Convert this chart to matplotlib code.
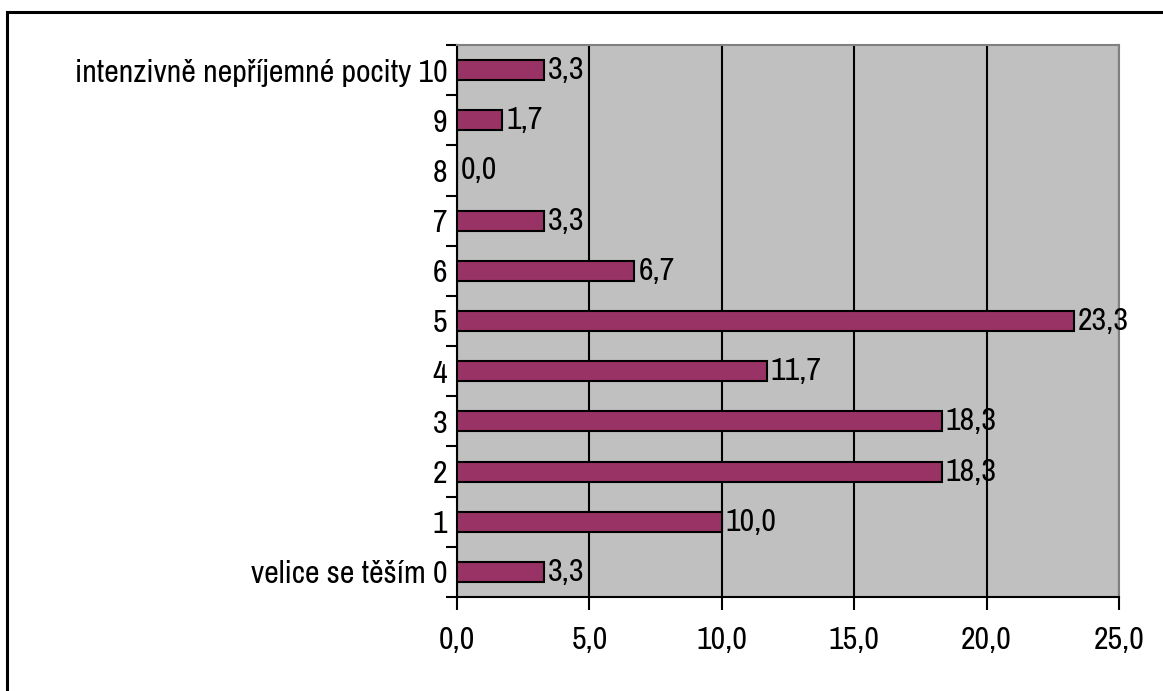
import matplotlib
matplotlib.use("Agg")
import matplotlib.pyplot as plt
from matplotlib.patches import Rectangle

# data
categories = ['velice se těším 0', '1', '2', '3', '4', '5', '6', '7', '8', '9',
              'intenzivně nepříjemné pocity 10']
values = [3.3, 10.0, 18.3, 18.3, 11.7, 23.3, 6.7, 3.3, 0.0, 1.7, 3.3]
xticks = [0, 5, 10, 15, 20, 25]

plt.rcParams['font.family'] = ['Archivo Narrow', 'Liberation Sans', 'DejaVu Sans']
fsize = 23

def comma(v):
    return f"{v:.1f}".replace('.', ',')

fig = plt.figure(figsize=(11.63, 6.91), dpi=100)
ax = fig.add_axes([457/1163, 1 - 597/691, (1119 - 457)/1163, (597 - 45)/691])

# outer frame
fig.patches.append(Rectangle((7/1163, -0.05), 1.1, 1 - 12/691 + 0.05, transform=fig.transFigure,
                             fill=False, edgecolor='black', linewidth=2.2))

ax.set_facecolor('#C0C0C0')
pos = list(range(len(categories)))
ax.barh(pos, values, height=0.4, color='#993366', edgecolor='black', linewidth=1.5, zorder=3)
for p, v in zip(pos, values):
    ax.text(v + 0.15, p, comma(v), va='center', ha='left', fontsize=fsize, color='black', zorder=4)

ax.set_xlim(0, 25)
ax.set_ylim(-0.5, len(categories) - 0.5)
ax.set_xticks(xticks)
ax.set_xticklabels([comma(t) for t in xticks], fontsize=fsize)
ax.set_yticks(pos)
ax.set_yticklabels(categories, fontsize=fsize)
ax.set_yticks([p - 0.5 for p in pos] + [len(pos) - 0.5], minor=True)
ax.tick_params(axis='y', which='major', length=0, pad=7)
ax.tick_params(axis='y', which='minor', length=8, width=1.5, direction='out')
ax.tick_params(axis='x', length=9, width=1.5, direction='out', pad=12)

ax.xaxis.grid(True, color='black', linewidth=1.5, zorder=1)
ax.set_axisbelow(True)
for side in ['top', 'right']:
    ax.spines[side].set_color('#808080')
    ax.spines[side].set_linewidth(1.5)
for side in ['left', 'bottom']:
    ax.spines[side].set_color('black')
    ax.spines[side].set_linewidth(1.5)

fig.savefig('out.png', dpi=100)
